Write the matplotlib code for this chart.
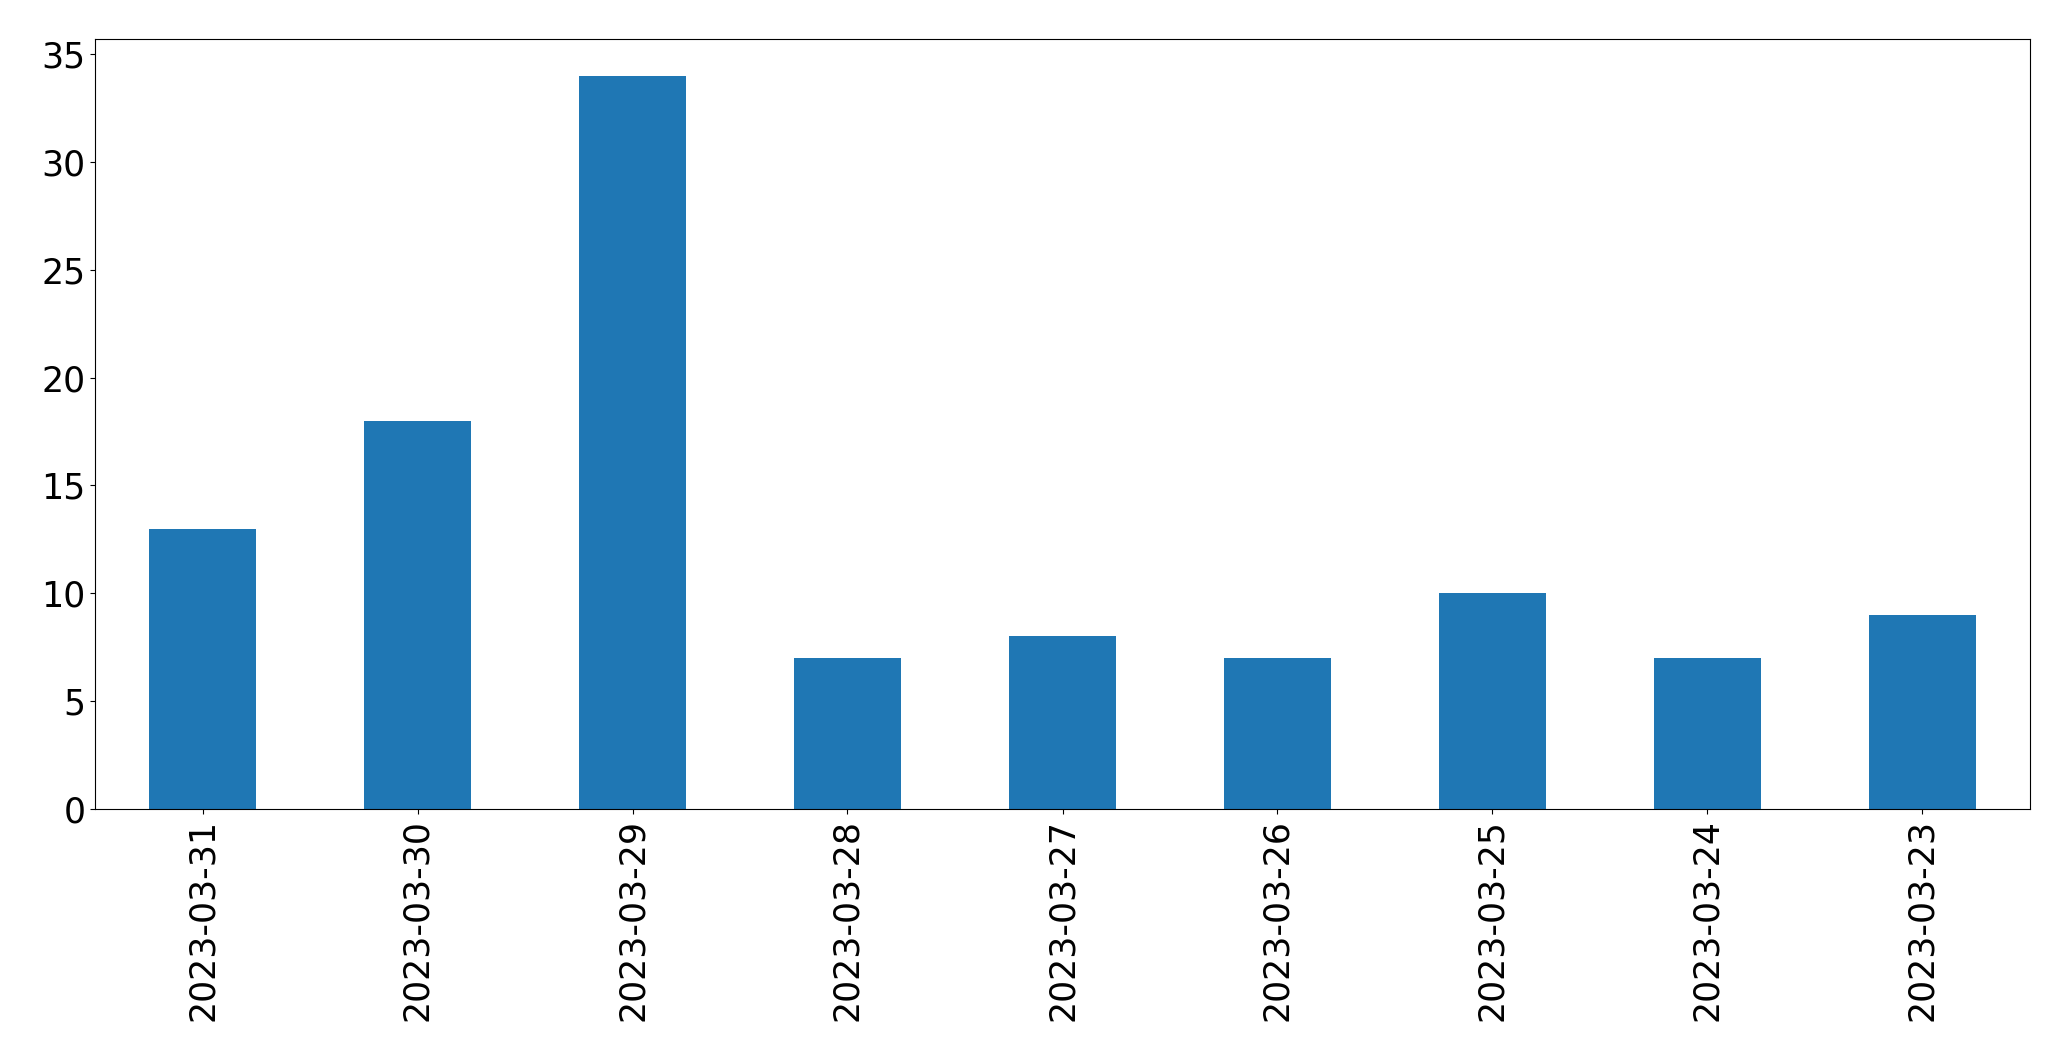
import matplotlib
matplotlib.use('Agg')
import matplotlib.pyplot as plt
import pandas as pd

dates = ['2023-03-31', '2023-03-30', '2023-03-29', '2023-03-28', '2023-03-27',
         '2023-03-26', '2023-03-25', '2023-03-24', '2023-03-23']
counts = [13, 18, 34, 7, 8, 7, 10, 7, 9]

plt.rcParams['font.size'] = 25

s = pd.Series(counts, index=dates)
fig, ax = plt.subplots(figsize=(20.71, 10.61), dpi=100)
s.plot(kind='bar', ax=ax, color='#1f77b4')
ax.set_xlabel('')
fig.subplots_adjust(left=95 / 2071, right=2030 / 2071, top=1 - 39 / 1061, bottom=1 - 809 / 1061)
fig.savefig('out.png', dpi=100)
